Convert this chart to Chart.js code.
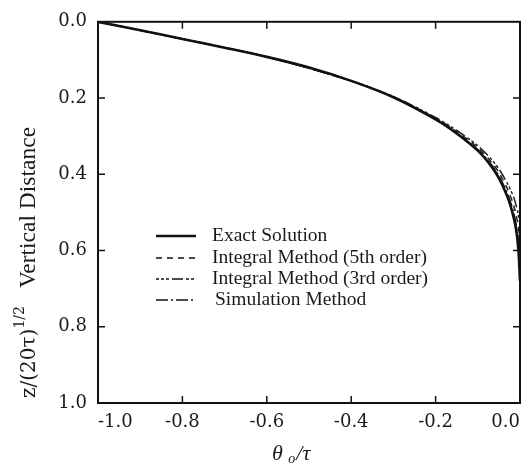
<!DOCTYPE html>
<html>
<head>
<meta charset="utf-8">
<script src="https://cdn.jsdelivr.net/npm/chart.js@4/dist/chart.umd.min.js"></script>
<style>
  html, body { margin: 0; padding: 0; background: #fff; }
  #wrap { width: 531px; height: 471px; }
</style>
</head>
<body>
<div id="wrap"><canvas id="depthChart" width="531" height="471"></canvas></div>
<script>
'use strict';

// Exact solution
const exactX = [-1.0, -0.9, -0.8, -0.7, -0.6, -0.5, -0.4, -0.3, -0.2, -0.15, -0.1, -0.07, -0.05, -0.03, -0.02, -0.01, -0.004, 0.0];
const exactY = [0.0, 0.022, 0.045, 0.068, 0.092, 0.12, 0.155, 0.198, 0.256, 0.293, 0.338, 0.376, 0.41, 0.458, 0.492, 0.54, 0.595, 0.68];

// Approximations (coincide with exact until close to 0)
const approxX = [-1.0, -0.8, -0.6, -0.4, -0.3, -0.2, -0.15, -0.1, -0.07, -0.05, -0.03, -0.015, -0.005, 0.0];
const int5Y = [0.0, 0.045, 0.092, 0.155, 0.197, 0.253, 0.288, 0.33, 0.365, 0.395, 0.438, 0.482, 0.53, 0.58];
const int3Y = [0.0, 0.045, 0.092, 0.155, 0.196, 0.251, 0.285, 0.325, 0.358, 0.386, 0.424, 0.46, 0.5, 0.53];
const simY  = [0.0, 0.045, 0.092, 0.155, 0.198, 0.255, 0.291, 0.335, 0.371, 0.404, 0.45, 0.5, 0.56, 0.62];

const seriesNames = ['Exact Solution', 'Integral Method (5th order)', 'Integral Method (3rd order)', 'Simulation Method'];
const xTicks = [-1.0, -0.8, -0.6, -0.4, -0.2, 0.0];
const yTicks = [0.0, 0.2, 0.4, 0.6, 0.8, 1.0];

const SERIF = '"Liberation Serif", "DejaVu Serif", serif';
const WIDE_SERIF = '"DejaVu Serif", serif';
const TICK_FONT = { family: WIDE_SERIF, size: 18 };

function toPoints(xs, ys) {
  return xs.map((x, i) => ({ x, y: ys[i] }));
}

function fmt(v) {
  return Math.abs(v) < 1e-9 ? '0.0' : v.toFixed(1);
}

// frame, inward ticks, axis titles and legend
const decorPlugin = {
  id: 'decor',
  afterDraw(chart) {
    const { ctx, chartArea: a, scales } = chart;
    ctx.save();
    ctx.strokeStyle = '#111';
    ctx.lineWidth = 2;
    ctx.strokeRect(a.left, a.top, a.right - a.left, a.bottom - a.top);

    ctx.lineWidth = 1.5;
    xTicks.slice(1, -1).forEach(v => {
      const px = scales.x.getPixelForValue(v);
      ctx.beginPath();
      ctx.moveTo(px, a.bottom); ctx.lineTo(px, a.bottom - 7);
      ctx.moveTo(px, a.top); ctx.lineTo(px, a.top + 7);
      ctx.stroke();
    });
    yTicks.slice(1, -1).forEach(v => {
      const py = scales.y.getPixelForValue(v);
      ctx.beginPath();
      ctx.moveTo(a.left, py); ctx.lineTo(a.left + 7, py);
      ctx.moveTo(a.right, py); ctx.lineTo(a.right - 7, py);
      ctx.stroke();
    });

    // x title: θ_o / τ
    ctx.fillStyle = '#1a1a1a';
    ctx.textBaseline = 'alphabetic';
    ctx.textAlign = 'left';
    let x = 272;
    const y = 460;
    ctx.font = 'italic 22px ' + SERIF;
    ctx.fillText('θ', x, y);
    x += ctx.measureText('θ ').width;
    ctx.font = 'italic 14px ' + SERIF;
    ctx.fillText('o', x, y + 3);
    x += ctx.measureText('o').width + 1;
    ctx.font = 'italic 22px ' + SERIF;
    ctx.fillText('/τ', x, y);

    // y title, rotated
    ctx.save();
    ctx.translate(35, 398);
    ctx.rotate(-Math.PI / 2);
    let t = 0;
    ctx.font = '20px ' + WIDE_SERIF;
    ctx.fillText('z/(20τ)', t, 0);
    t += ctx.measureText('z/(20τ)').width;
    ctx.font = '14px ' + WIDE_SERIF;
    ctx.fillText('1/2', t, -11);
    t += ctx.measureText('1/2').width + 18;
    ctx.font = '23.5px ' + SERIF;
    ctx.fillText('Vertical Distance', t, 0);
    ctx.restore();

    // legend inside plot
    const rowsY = [236, 258, 279, 300];
    chart.data.datasets.forEach((ds, i) => {
      const ly = rowsY[i];
      ctx.beginPath();
      ctx.setLineDash(ds.borderDash || []);
      ctx.lineWidth = i === 0 ? 2.6 : 1.6;
      ctx.strokeStyle = '#111';
      ctx.moveTo(156, ly);
      ctx.lineTo(196, ly);
      ctx.stroke();
      ctx.setLineDash([]);
      ctx.font = '19.5px ' + SERIF;
      ctx.fillStyle = '#1a1a1a';
      ctx.textBaseline = 'middle';
      ctx.fillText(ds.label, i === 3 ? 215 : 212, ly);
    });
    ctx.restore();
  }
};

const ctx = document.getElementById('depthChart').getContext('2d');
new Chart(ctx, {
  type: 'scatter',
  data: {
    datasets: [
      { label: seriesNames[0], data: toPoints(exactX, exactY), borderColor: '#111', borderWidth: 2.6, borderDash: [] },
      { label: seriesNames[1], data: toPoints(approxX, int5Y), borderColor: '#222', borderWidth: 1.5, borderDash: [6, 5] },
      { label: seriesNames[2], data: toPoints(approxX, int3Y), borderColor: '#222', borderWidth: 1.5, borderDash: [3, 2, 3, 2, 3, 3, 11, 3] },
      { label: seriesNames[3], data: toPoints(approxX, simY), borderColor: '#222', borderWidth: 1.5, borderDash: [12, 3, 2, 3] }
    ].map(ds => Object.assign(ds, { showLine: true, pointRadius: 0, fill: false, tension: 0.3 }))
  },
  options: {
    responsive: false,
    animation: false,
    events: [],
    layout: { padding: { left: 0, right: 11, top: 12, bottom: 0 } },
    plugins: { legend: { display: false }, tooltip: { enabled: false } },
    scales: {
      x: {
        type: 'linear',
        min: -1.0,
        max: 0.0,
        afterFit: s => { s.height = 68; },
        afterBuildTicks: s => { s.ticks = xTicks.map(v => ({ value: v })); },
        grid: { display: false, drawTicks: false },
        border: { display: false },
        ticks: {
          align: 'inner',
          padding: 9,
          color: '#1a1a1a',
          font: TICK_FONT,
          callback: v => fmt(v)
        }
      },
      y: {
        type: 'linear',
        reverse: true,
        min: 0,
        max: 1.0,
        afterFit: s => { s.width = 98; },
        afterBuildTicks: s => { s.ticks = yTicks.map(v => ({ value: v })); },
        grid: { display: false, drawTicks: false },
        border: { display: false },
        ticks: {
          padding: 11,
          color: '#1a1a1a',
          font: TICK_FONT,
          callback: v => fmt(v)
        }
      }
    }
  },
  plugins: [decorPlugin]
});
</script>
</body>
</html>
